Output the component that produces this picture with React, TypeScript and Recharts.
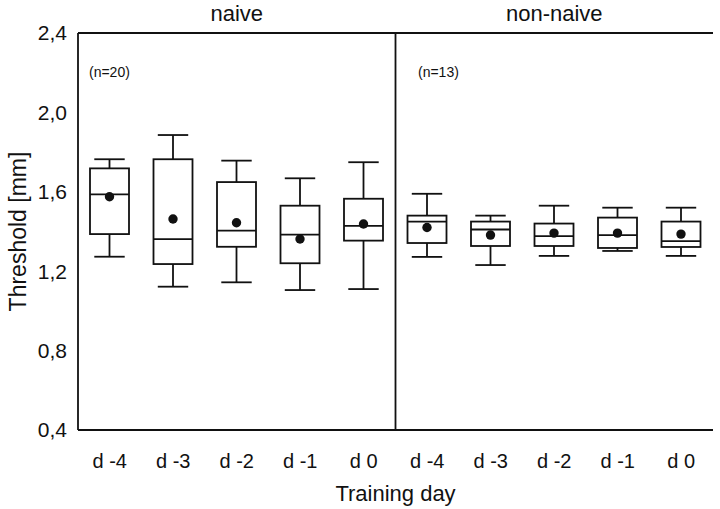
import { ComposedChart, Bar, XAxis, YAxis, ReferenceLine, Label } from 'recharts'

// one entry per box, naive group first, then non-naive
const categories = ['n-4', 'n-3', 'n-2', 'n-1', 'n0', 'c-4', 'c-3', 'c-2', 'c-1', 'c0']
const dayLabels = ['d -4', 'd -3', 'd -2', 'd -1', 'd 0', 'd -4', 'd -3', 'd -2', 'd -1', 'd 0']
const groupNames = ['naive', 'non-naive']
const groupCounts = ['(n=20)', '(n=13)']

const whiskerLow = [1.273, 1.122, 1.144, 1.105, 1.11, 1.272, 1.231, 1.277, 1.302, 1.277]
const q1 = [1.387, 1.236, 1.323, 1.24, 1.354, 1.342, 1.327, 1.327, 1.317, 1.322]
const median = [1.587, 1.362, 1.404, 1.384, 1.428, 1.45, 1.41, 1.377, 1.382, 1.352]
const q3 = [1.718, 1.764, 1.649, 1.53, 1.565, 1.48, 1.45, 1.44, 1.47, 1.45]
const whiskerHigh = [1.764, 1.886, 1.757, 1.668, 1.749, 1.59, 1.48, 1.53, 1.52, 1.52]
const mean = [1.575, 1.463, 1.444, 1.362, 1.438, 1.42, 1.382, 1.392, 1.392, 1.387]

const yTicks = [0.4, 0.8, 1.2, 1.6, 2.0, 2.4]

const data = categories.map((key, i) => ({
  key,
  range: [whiskerLow[i], whiskerHigh[i]],
  lo: whiskerLow[i],
  hi: whiskerHigh[i],
  q1: q1[i],
  median: median[i],
  q3: q3[i],
  mean: mean[i],
}))

const INK = '#111'
const FONT = '"Liberation Sans", Arial, Helvetica, sans-serif'
const SW = 1.8

// bar covers whisker range, everything else is placed from its pixel scale
function BoxShape(props: any) {
  const { x, y, width, height } = props
  const p = props.payload ?? props
  const top = Math.min(y, y + height)
  const h = Math.abs(height)
  const k = h / (p.hi - p.lo)
  const py = (v: number) => top + (p.hi - v) * k
  const cx = x + width / 2
  const cap = width * 0.39
  return (
    <g stroke={INK} strokeWidth={SW} fill="none">
      <line x1={cx} x2={cx} y1={py(p.hi)} y2={py(p.q3)} />
      <line x1={cx} x2={cx} y1={py(p.q1)} y2={py(p.lo)} />
      <line x1={cx - cap} x2={cx + cap} y1={py(p.hi)} y2={py(p.hi)} />
      <line x1={cx - cap} x2={cx + cap} y1={py(p.lo)} y2={py(p.lo)} />
      <rect x={x} y={py(p.q3)} width={width} height={py(p.q1) - py(p.q3)} />
      <line x1={x} x2={x + width} y1={py(p.median)} y2={py(p.median)} />
      <circle cx={cx} cy={py(p.mean)} r={4.7} fill={INK} stroke="none" />
    </g>
  )
}

const fmt = (v: number) => v.toFixed(1).replace('.', ',')

export default function App() {
  return (
    <div style={{ position: 'fixed', left: 0, top: 0, width: 720, height: 509, background: '#fff', fontFamily: FONT }}>
      <ComposedChart
        width={720}
        height={509}
        data={data}
        margin={{ top: 0, right: 7, left: 0, bottom: 0 }}
      >
        <XAxis
          xAxisId="bottom"
          dataKey="key"
          height={79}
          axisLine={{ stroke: INK, strokeWidth: SW }}
          tickLine={false}
          tickSize={0}
          tickMargin={24}
          tickFormatter={(v: string) => dayLabels[categories.indexOf(v)]}
          tick={{ fill: INK, fontSize: 20, fontFamily: FONT }}
        >
          <Label value="Training day" position="insideBottom" offset={8} style={{ fill: INK, fontSize: 22, fontFamily: FONT }} />
        </XAxis>
        <XAxis
          xAxisId="top"
          orientation="top"
          dataKey="key"
          height={33}
          ticks={[categories[2], categories[7]]}
          axisLine={{ stroke: INK, strokeWidth: SW }}
          tickLine={false}
          tickSize={0}
          tickMargin={12}
          tickFormatter={(v: string) => (v === categories[2] ? groupNames[0] : groupNames[1])}
          tick={{ fill: INK, fontSize: 22, fontFamily: FONT }}
        />
        <YAxis
          yAxisId="left"
          width={78}
          domain={[0.4, 2.4]}
          ticks={yTicks}
          allowDataOverflow
          axisLine={{ stroke: INK, strokeWidth: SW }}
          tickLine={false}
          tickSize={0}
          tickMargin={11}
          tickFormatter={fmt}
          tick={{ fill: INK, fontSize: 21, fontFamily: FONT }}
        >
          <Label
            value="Threshold [mm]"
            angle={-90}
            position="insideLeft"
            offset={18}
            style={{ fill: INK, fontSize: 23, fontFamily: FONT, textAnchor: 'middle' }}
          />
        </YAxis>
        <YAxis
          yAxisId="right"
          orientation="right"
          width={0}
          domain={[0.4, 2.4]}
          ticks={yTicks}
          tick={false}
          tickLine={false}
          axisLine={{ stroke: INK, strokeWidth: SW }}
        />
        <ReferenceLine
          xAxisId="bottom"
          yAxisId="left"
          x={categories[5]}
          position="start"
          stroke={INK}
          strokeWidth={SW}
        />
        <Bar
          xAxisId="bottom"
          yAxisId="left"
          dataKey="range"
          barSize={39}
          shape={BoxShape}
          isAnimationActive={false}
        />
      </ComposedChart>
      <div style={{ position: 'absolute', left: 89, top: 64, fontSize: 14, color: INK }}>{groupCounts[0]}</div>
      <div style={{ position: 'absolute', left: 418, top: 64, fontSize: 14, color: INK }}>{groupCounts[1]}</div>
    </div>
  )
}
